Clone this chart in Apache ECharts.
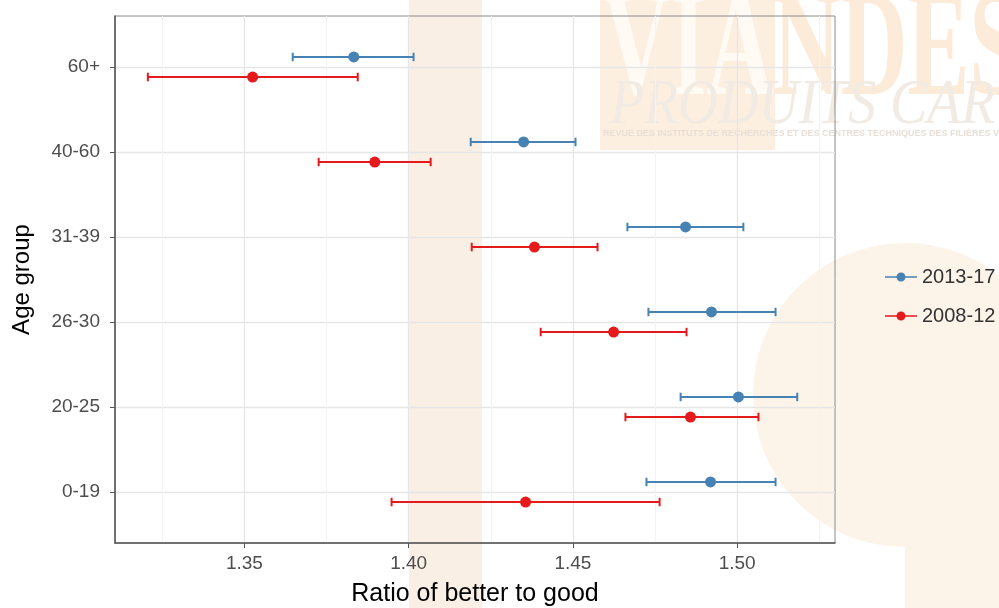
<!DOCTYPE html>
<html>
<head>
<meta charset="utf-8">
<script src="https://cdn.jsdelivr.net/npm/echarts@6/dist/echarts.min.js"></script>
<style>html,body{margin:0;padding:0;background:#fff}#c{width:999px;height:608px}</style>
</head>
<body>
<div id="c"></div>
<script>
// Age groups, bottom to top
var categories = ['0-19', '20-25', '26-30', '31-39', '40-60', '60+'];
var xTicks = [1.35, 1.40, 1.45, 1.50];
var xMinorTicks = [1.325, 1.375, 1.425, 1.475, 1.525];

// 2013-17
var mean1317 = [1.4919, 1.5004, 1.4922, 1.4843, 1.4350, 1.3833];
var low1317  = [1.4724, 1.4828, 1.4730, 1.4666, 1.4189, 1.3647];
var high1317 = [1.5117, 1.5183, 1.5117, 1.5019, 1.4508, 1.4015];

// 2008-12
var mean0812 = [1.4356, 1.4858, 1.4624, 1.4383, 1.3897, 1.3525];
var low0812  = [1.3948, 1.4660, 1.4402, 1.4192, 1.3726, 1.3206];
var high0812 = [1.4764, 1.5065, 1.4846, 1.4575, 1.4067, 1.3845];

var BLUE = '#4682B4', RED = '#E41A1C';
var FONT = '"Liberation Sans", Arial, sans-serif';

function rows(m, l, h) {
  return categories.map(function (c, i) { return [i, m[i], l[i], h[i]]; });
}
function makeRender(color, dir) {
  return function (params, api) {
    var yi = api.value(0);
    var pm = api.coord([api.value(1), yi]);
    var pl = api.coord([api.value(2), yi]);
    var ph = api.coord([api.value(3), yi]);
    var unit = api.size([0, 1])[1];
    var y = pm[1] + dir * unit * 0.118;
    var cap = unit * 0.05;
    var ls = { stroke: color, lineWidth: 2 };
    return {
      type: 'group',
      children: [
        { type: 'line', shape: { x1: pl[0], y1: y, x2: ph[0], y2: y }, style: ls },
        { type: 'line', shape: { x1: pl[0], y1: y - cap, x2: pl[0], y2: y + cap }, style: ls },
        { type: 'line', shape: { x1: ph[0], y1: y - cap, x2: ph[0], y2: y + cap }, style: ls },
        { type: 'circle', shape: { cx: pm[0], cy: y, r: 5.5 }, style: { fill: color } }
      ]
    };
  };
}

var legendIcon = 'path://M0 4.3H32V5.7H0Z M20.5 5A4.5 4.5 0 1 1 11.5 5A4.5 4.5 0 1 1 20.5 5Z';

var chart = echarts.init(document.getElementById('c'), null, { renderer: 'canvas' });
chart.setOption({
  backgroundColor: '#fff',
  animation: false,
  graphic: [
    { type: 'rect', z: -10, shape: { x: 409, y: 0, width: 73, height: 608 }, style: { fill: '#f9efe5' } },
    { type: 'rect', z: -10, shape: { x: 600, y: 0, width: 175, height: 150 }, style: { fill: '#fcefe0' } },
    { type: 'circle', z: -10, shape: { cx: 905, cy: 395, r: 152 }, style: { fill: '#fcf3e9' } },
    { type: 'rect', z: -10, shape: { x: 905, y: 470, width: 94, height: 138 }, style: { fill: '#fcf3e9' } },
    { type: 'text', z: -9, x: 603, y: -20, scaleX: 0.62, style: { text: 'VIA', font: 'bold 150px "Liberation Serif", serif', fill: '#fffaf4' } },
    { type: 'text', z: -9, x: 773, y: -20, scaleX: 0.62, style: { text: 'NDES', font: 'bold 150px "Liberation Serif", serif', fill: '#fcebd8' } },
    { type: 'text', z: -8, x: 610, y: 74, scaleX: 0.87, style: { text: 'PRODUITS CAR', font: 'italic 64px "Liberation Serif", serif', fill: '#f1ebe3' } },
    { type: 'text', z: -8, x: 603, y: 129, style: { text: 'REVUE DES INSTITUTS DE RECHERCHES ET DES CENTRES TECHNIQUES DES FILIÈRES V', font: 'bold 9px "Liberation Sans", sans-serif', fill: '#e8e0d6' } }
  ],
  grid: {
    left: 115, right: 164, top: 16, bottom: 65,
    outerBoundsMode: 'none', containLabel: false,
    show: true, borderColor: '#8a8a8a', borderWidth: 1, backgroundColor: 'transparent'
  },
  legend: {
    orient: 'vertical', left: 880, top: 262, itemGap: 19,
    itemWidth: 32, itemHeight: 10,
    textStyle: { fontFamily: FONT, fontSize: 20, color: '#333' },
    data: [
      { name: '2013-17', icon: legendIcon },
      { name: '2008-12', icon: legendIcon }
    ]
  },
  xAxis: [
    {
      type: 'value', min: 1.3106, max: 1.5298,
      name: 'Ratio of better to good', nameLocation: 'middle', nameGap: 39,
      nameTextStyle: { fontFamily: FONT, fontSize: 25, color: '#000' },
      axisLine: { show: true, onZero: false, lineStyle: { color: '#555', width: 1.5 } },
      axisTick: { show: true, length: 5, customValues: xTicks, lineStyle: { color: '#555' } },
      axisLabel: { customValues: xTicks, margin: 11, fontFamily: FONT, fontSize: 19, color: '#4d4d4d',
        formatter: function (v) { return v.toFixed(2); } },
      splitLine: { show: true, lineStyle: { color: '#e6e6e6', width: 1.3 } }
    },
    {
      type: 'value', min: 1.3106, max: 1.5298, position: 'bottom',
      axisLine: { show: false }, axisLabel: { show: false },
      axisTick: { show: false, customValues: xMinorTicks },
      splitLine: { show: true, lineStyle: { color: '#f3f3f3', width: 1 } }
    }
  ],
  yAxis: {
    type: 'value', min: -0.6, max: 5.6,
    name: 'Age group', nameLocation: 'middle', nameGap: 81, nameRotate: 90,
    nameTextStyle: { fontFamily: FONT, fontSize: 24, color: '#000' },
    axisLine: { show: true, onZero: false, lineStyle: { color: '#555', width: 1.5 } },
    axisTick: { show: true, length: 5, customValues: [0, 1, 2, 3, 4, 5], lineStyle: { color: '#555' } },
    axisLabel: { customValues: [0, 1, 2, 3, 4, 5], margin: 15, fontFamily: FONT, fontSize: 19, color: '#4d4d4d',
      formatter: function (v) { return categories[Math.round(v)]; } },
    splitLine: { show: true, lineStyle: { color: '#e6e6e6', width: 1.3 } }
  },
  series: [
    {
      name: '2013-17', type: 'custom', xAxisIndex: 0,
      itemStyle: { color: BLUE },
      renderItem: makeRender(BLUE, -1),
      encode: { x: [1, 2, 3], y: 0 },
      data: rows(mean1317, low1317, high1317)
    },
    {
      name: '2008-12', type: 'custom', xAxisIndex: 0,
      itemStyle: { color: RED },
      renderItem: makeRender(RED, 1),
      encode: { x: [1, 2, 3], y: 0 },
      data: rows(mean0812, low0812, high0812)
    }
  ]
});
</script>
</body>
</html>
